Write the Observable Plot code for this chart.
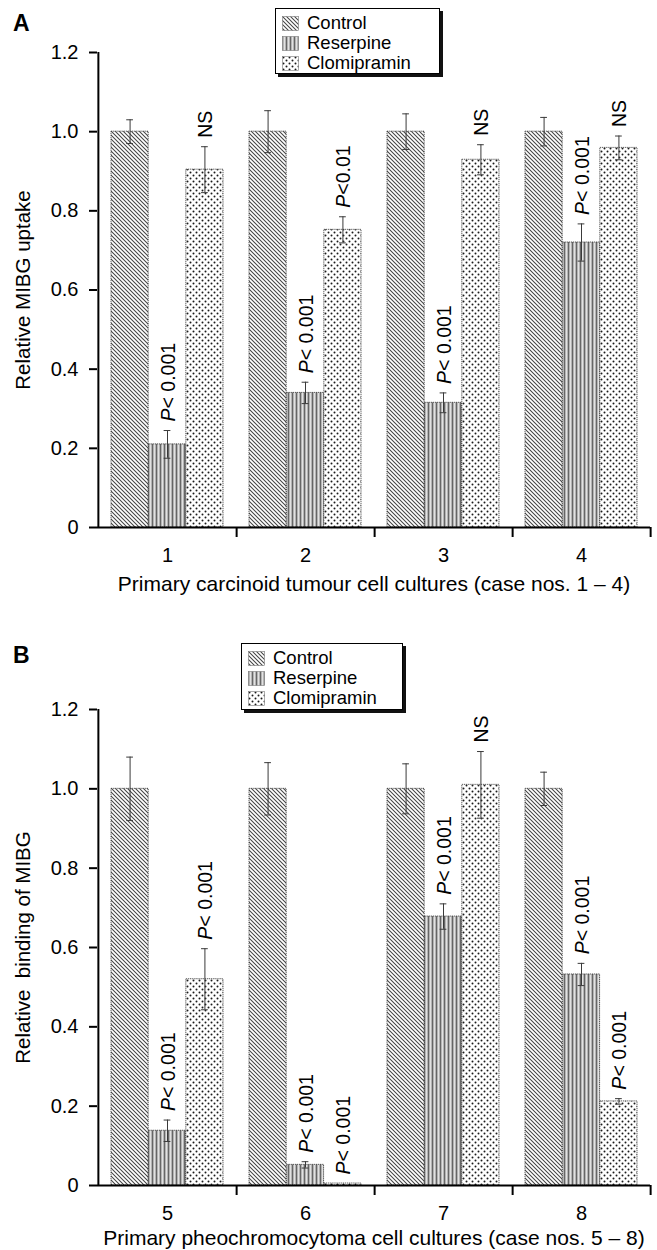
<!DOCTYPE html>
<html><head><meta charset="utf-8">
<script src="https://cdn.jsdelivr.net/npm/d3@7"></script>
<script src="https://cdn.jsdelivr.net/npm/@observablehq/plot@0.6"></script>
<style>
html,body{margin:0;padding:0;background:#fff}
body{position:relative;width:657px;height:1250px;overflow:hidden;font-family:"Liberation Sans",Arial,Helvetica,sans-serif;color:#000}
.panel{position:absolute;left:0;width:657px;height:625px}
.letter{position:absolute;left:13px;font-weight:bold;font-size:23px;line-height:23px}
.legend{position:absolute;box-sizing:border-box;background:#fff;border:1.5px solid #000;box-shadow:3px 3px 0 #111}
.legend .row{position:absolute;left:6px;height:20px;display:flex;align-items:center;font-size:18.5px;line-height:20px;white-space:nowrap}
.legend svg{margin-right:8px;flex:none}
</style>
</head><body>
<svg width="0" height="0" style="position:absolute">
  <defs>
    <pattern id="pat-0" patternUnits="userSpaceOnUse" width="4" height="4">
      <rect width="4" height="4" fill="#fff"/>
      <path d="M-1,-1 L5,5 M-1,3 L1,5 M3,-1 L5,1" stroke="#444" stroke-width="1.05"/>
    </pattern>
    <pattern id="pat-1" patternUnits="userSpaceOnUse" width="4" height="4">
      <rect width="4" height="4" fill="#b4b4b4"/>
      <rect x="0" width="1" height="4" fill="#666"/>
      <rect x="2" width="1" height="4" fill="#e2e2e2"/>
    </pattern>
    <pattern id="pat-2" patternUnits="userSpaceOnUse" width="6" height="6">
      <rect width="6" height="6" fill="#fff"/>
      <circle cx="1.5" cy="1.5" r="1" fill="#1a1a1a"/>
      <circle cx="4.5" cy="4.5" r="1" fill="#1a1a1a"/>
    </pattern>
  </defs>
</svg>
<div class="letter" style="top:12px">A</div>
<div class="letter" style="top:644px">B</div>
<div id="panelA" class="panel" style="top:0"></div>
<div id="panelB" class="panel" style="top:625px"></div>
<div id="legendA" class="legend" style="left:275px;top:8px;width:165px;height:66px"></div>
<div id="legendB" class="legend" style="left:241px;top:643px;width:162px;height:67px"></div>
<script>
// ---------- data ----------
const treatments = ["Control", "Reserpine", "Clomipramin"];
const yTicks = [0, 0.2, 0.4, 0.6, 0.8, 1.0, 1.2];

// Panel A: primary carcinoid tumour cell cultures
const casesA = ["1", "2", "3", "4"];
const controlA = [1.0, 1.0, 1.0, 1.0];
const controlErrA = [0.03, 0.053, 0.045, 0.036];
const reserpineA = [0.21, 0.34, 0.315, 0.72];
const reserpineErrA = [0.035, 0.027, 0.025, 0.047];
const clomipraminA = [0.904, 0.752, 0.929, 0.959];
const clomipraminErrA = [0.058, 0.033, 0.038, 0.03];
const reserpineSigA = ["P< 0.001", "P< 0.001", "P< 0.001", "P< 0.001"];
const clomipraminSigA = ["NS", "P<0.01", "NS", "NS"];

// Panel B: primary pheochromocytoma cell cultures
const casesB = ["5", "6", "7", "8"];
const controlB = [1.0, 1.0, 1.0, 1.0];
const controlErrB = [0.08, 0.066, 0.063, 0.042];
const reserpineB = [0.138, 0.052, 0.678, 0.532];
const reserpineErrB = [0.027, 0.008, 0.032, 0.028];
const clomipraminB = [0.52, 0.005, 1.01, 0.212];
const clomipraminErrB = [0.077, 0, 0.084, 0.007];
const reserpineSigB = ["P< 0.001", "P< 0.001", "P< 0.001", "P< 0.001"];
const clomipraminSigB = ["P< 0.001", "P< 0.001", "NS", "P< 0.001"];

const FONT = '"Liberation Sans", Arial, Helvetica, sans-serif';

function rowsFor(cases, values, errs, sigs) {
  return cases.map((c, i) => ({case: c, value: values[i], err: errs[i], sig: sigs ? sigs[i] : null}));
}

function drawPanel(el, cfg) {
  const W = 657, H = 625, mL = 97, mR = 7;
  const step = (W - mL - mR) / cfg.cases.length;
  const pad = step * 0.094;
  const bw = (step - 2 * pad) / 3;
  const offsets = [-bw, 0, bw];
  const insets = [
    [pad, step - pad - bw],
    [pad + bw, pad + bw],
    [step - pad - bw, pad]
  ];
  const marks = [];
  cfg.series.forEach((rows, k) => {
    marks.push(Plot.barY(rows, {
      x: "case", y: "value", fill: `url(#pat-${k})`,
      stroke: "#333", strokeWidth: 0.8, strokeDasharray: "1.3,0.8",
      insetLeft: insets[k][0], insetRight: insets[k][1]
    }));
  });
  cfg.series.forEach((rows, k) => {
    const withErr = rows.filter(d => d.err > 0);
    marks.push(Plot.ruleX(withErr, {x: "case", y1: d => d.value - d.err, y2: d => d.value + d.err, dx: offsets[k], stroke: "#3a3a3a", strokeWidth: 1}));
    for (const sgn of [1, -1]) {
      marks.push(Plot.tickY(withErr, {x: "case", y: d => d.value + sgn * d.err, dx: offsets[k],
        insetLeft: step / 2 - 3.5, insetRight: step / 2 - 3.5, stroke: "#3a3a3a", strokeWidth: 1}));
    }
    const withSig = rows.filter(d => d.sig);
    marks.push(Plot.text(withSig, {x: "case", y: d => d.value + d.err, text: "sig", rotate: -90,
      textAnchor: "start", lineAnchor: "middle", dx: offsets[k] + 1, dy: -9, fontSize: 19.5, fill: "#000"}));
  });
  // axes
  marks.push(Plot.ruleY([0], {stroke: "#000", strokeWidth: 2}));
  marks.push(Plot.ruleX([cfg.cases[0]], {y1: 0, y2: 1.2, dx: -step / 2, stroke: "#000", strokeWidth: 2}));
  marks.push(Plot.ruleX(cfg.cases, {y1: 0, y2: 0, insetBottom: -10, dx: step / 2, stroke: "#000", strokeWidth: 2}));
  marks.push(Plot.axisY({ticks: yTicks, tickSize: 8, tickPadding: 11, strokeWidth: 2, fontSize: 20,
    tickFormat: d => d === 0 ? "0" : d.toFixed(1), label: null}));
  marks.push(Plot.axisY({ticks: [], label: cfg.ylabel, labelAnchor: "center", labelArrow: "none", labelOffset: 82, fontSize: 20.5}));
  marks.push(Plot.axisX({tickSize: 0, tickPadding: 20, fontSize: 20, label: null}));
  marks.push(Plot.axisX({ticks: [], label: cfg.xlabel, labelAnchor: "center", labelArrow: "none",
    labelOffset: cfg.xLabelOffset, fontSize: 21}));

  const svg = Plot.plot({
    width: W, height: H,
    marginLeft: mL, marginRight: mR, marginTop: cfg.marginTop, marginBottom: cfg.marginBottom,
    style: {fontFamily: FONT, fontSize: "20px", background: "transparent", overflow: "visible", color: "#000"},
    x: {type: "band", domain: cfg.cases, padding: 0, axis: null},
    y: {domain: [0, 1.2], axis: null},
    marks
  });
  // italic P in significance labels
  d3.select(svg).selectAll("text").each(function () {
    const t = this.textContent;
    if (this.childElementCount === 0 && /^P\s?</.test(t)) {
      const s = d3.select(this);
      s.text(null);
      s.append("tspan").attr("font-style", "italic").text("P");
      s.append("tspan").text(t.slice(1));
    }
  });
  el.appendChild(svg);
}

function drawLegend(el) {
  treatments.forEach((name, k) => {
    const row = document.createElement("div");
    row.className = "row";
    row.style.top = (4 + k * 20) + "px";
    row.innerHTML = `<svg width="17" height="15"><rect x="0.5" y="0.5" width="16" height="14" fill="url(#pat-${k})" stroke="#777" stroke-width="0.6"/></svg><span>${name}</span>`;
    el.appendChild(row);
  });
}

drawPanel(document.getElementById("panelA"), {
  cases: casesA,
  series: [
    rowsFor(casesA, controlA, controlErrA, null),
    rowsFor(casesA, reserpineA, reserpineErrA, reserpineSigA),
    rowsFor(casesA, clomipraminA, clomipraminErrA, clomipraminSigA)
  ],
  ylabel: "Relative MIBG uptake",
  xlabel: "Primary carcinoid tumour cell cultures (case nos. 1 \u2013 4)",
  marginTop: 52, marginBottom: 98, xLabelOffset: 63
});
drawPanel(document.getElementById("panelB"), {
  cases: casesB,
  series: [
    rowsFor(casesB, controlB, controlErrB, null),
    rowsFor(casesB, reserpineB, reserpineErrB, reserpineSigB),
    rowsFor(casesB, clomipraminB, clomipraminErrB, clomipraminSigB)
  ],
  ylabel: "Relative  binding of MIBG",
  xlabel: "Primary pheochromocytoma cell cultures (case nos. 5 \u2013 8)",
  marginTop: 84, marginBottom: 65, xLabelOffset: 59
});
drawLegend(document.getElementById("legendA"));
drawLegend(document.getElementById("legendB"));
</script>
</body></html>
